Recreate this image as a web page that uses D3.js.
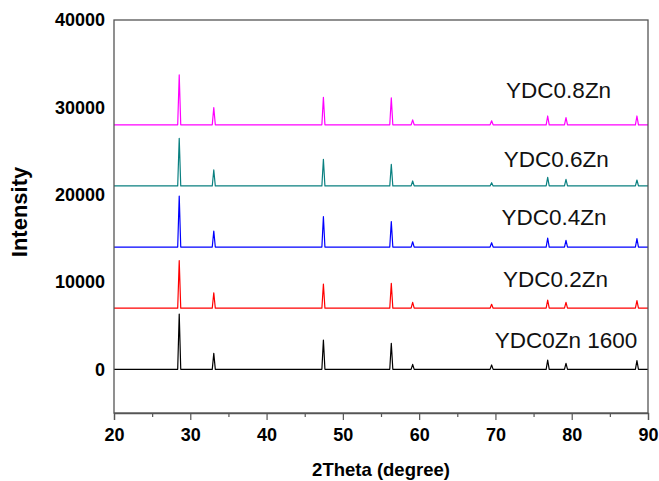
<!DOCTYPE html>
<html>
<head>
<meta charset="utf-8">
<script src="https://cdn.jsdelivr.net/npm/d3@7"></script>
<style>
  body { margin: 0; background: #fff; }
  svg { display: block; }
  .tick text { font-family: "Liberation Sans", Arial, sans-serif; font-weight: bold; font-size: 18px; fill: #000; }
</style>
</head>
<body>
<div id="chart"></div>
<script>
// peak positions (2theta, degree)
var peaks = [28.55, 33.08, 47.45, 56.35, 59.15, 69.5, 76.85, 79.25, 88.55];

// sample names, bottom to top
var samples = ["YDC0Zn 1600", "YDC0.2Zn", "YDC0.4Zn", "YDC0.6Zn", "YDC0.8Zn"];
var colors = ["#000000", "#ff0000", "#0000ff", "#0a8080", "#ff00ff"];

// vertical offset of each pattern
var baselines = [0, 7000, 14000, 21000, 28000];

// peak heights above baseline, one per peak
var h_0zn  = [6330, 1830, 3350, 2980, 560, 500, 1050, 680, 1000];
var h_02zn = [5440, 1770, 2770, 2850, 670, 450, 940, 670, 860];
var h_04zn = [5850, 1840, 3480, 2910, 610, 500, 1030, 770, 960];
var h_06zn = [5460, 1830, 3050, 2480, 570, 370, 990, 760, 680];
var h_08zn = [5710, 1970, 3150, 3080, 560, 460, 1010, 820, 1010];
var heights = [h_0zn, h_02zn, h_04zn, h_06zn, h_08zn];

var xTicks = [20, 30, 40, 50, 60, 70, 80, 90];
var xMinor = [25, 35, 45, 55, 65, 75, 85];
var yTicks = [0, 10000, 20000, 30000, 40000];

var width = 659, height = 481;
var margin = {left: 114, right: 11, top: 20, bottom: 68};

var svg = d3.select('#chart').append('svg')
  .attr('width', width)
  .attr('height', height);

var x = d3.scaleLinear().domain([20, 90]).range([margin.left, width - margin.right]);
var y = d3.scaleLinear().domain([-5000, 40000]).range([height - margin.bottom, margin.top]);

// build each pattern: flat baseline with a narrow peak at each reflection
var halfWidth = 0.2;
var patterns = samples.map(function(name, i) {
  var base = baselines[i];
  var pts = [[20, base]];
  peaks.forEach(function(p, k) {
    pts.push([p - halfWidth, base]);
    pts.push([p, base + heights[i][k]]);
    pts.push([p + halfWidth, base]);
  });
  pts.push([90, base]);
  return {name: name, color: colors[i], base: base, points: pts};
});

var line = d3.line()
  .x(function(d) { return x(d[0]); })
  .y(function(d) { return y(d[1]); });

svg.selectAll('.pattern')
  .data(patterns)
  .enter().append('path')
    .attr('class', 'pattern')
    .attr('d', function(d) { return line(d.points); })
    .attr('fill', 'none')
    .attr('stroke', function(d) { return d.color; })
    .attr('stroke-width', 1.2)
    .attr('stroke-linejoin', 'round');

// frame
svg.append('rect')
  .attr('x', x(20)).attr('y', y(40000))
  .attr('width', x(90) - x(20)).attr('height', y(-5000) - y(40000))
  .attr('fill', 'none')
  .attr('stroke', '#555')
  .attr('stroke-width', 1.3);

// x axis, major ticks outward
var xAxis = svg.append('g')
  .attr('transform', 'translate(0,' + y(-5000) + ')')
  .call(d3.axisBottom(x).tickValues(xTicks).tickSize(7).tickPadding(8).tickFormat(d3.format('d')));
xAxis.select('.domain').attr('stroke', '#555').attr('stroke-width', 1.3);
xAxis.selectAll('.tick line').attr('stroke', '#555').attr('stroke-width', 1.2);

// minor ticks
svg.append('g')
  .attr('transform', 'translate(0,' + y(-5000) + ')')
  .call(d3.axisBottom(x).tickValues(xMinor).tickSize(4).tickFormat(''))
  .call(function(g) { g.select('.domain').remove(); })
  .selectAll('.tick line').attr('stroke', '#555').attr('stroke-width', 1.2);

// y axis, labels only
var yAxis = svg.append('g')
  .attr('transform', 'translate(' + x(20) + ',0)')
  .call(d3.axisLeft(y).tickValues(yTicks).tickSize(0).tickPadding(9).tickFormat(d3.format('d')));
yAxis.select('.domain').remove();

// sample labels
var labelX = [69.9, 71.0, 70.8, 71.1, 71.4];
var labelOffset = [2400, 2460, 2530, 2210, 3040];
svg.selectAll('.sample-label')
  .data(patterns)
  .enter().append('text')
    .attr('class', 'sample-label')
    .attr('x', function(d, i) { return x(labelX[i]); })
    .attr('y', function(d, i) { return y(d.base + labelOffset[i]); })
    .attr('font-family', '"Liberation Sans", Arial, sans-serif')
    .attr('font-size', 22.5)
    .attr('fill', '#111')
    .text(function(d) { return d.name; });

// axis titles
svg.append('text')
  .attr('x', (x(20) + x(90)) / 2)
  .attr('y', 476)
  .attr('text-anchor', 'middle')
  .attr('font-family', '"Liberation Sans", Arial, sans-serif')
  .attr('font-weight', 'bold')
  .attr('font-size', 18.5)
  .text('2Theta (degree)');

svg.append('text')
  .attr('transform', 'translate(26.5,' + 212 + ') rotate(-90)')
  .attr('text-anchor', 'middle')
  .attr('font-family', '"Liberation Sans", Arial, sans-serif')
  .attr('font-weight', 'bold')
  .attr('font-size', 22)
  .text('Intensity');
</script>
</body>
</html>
